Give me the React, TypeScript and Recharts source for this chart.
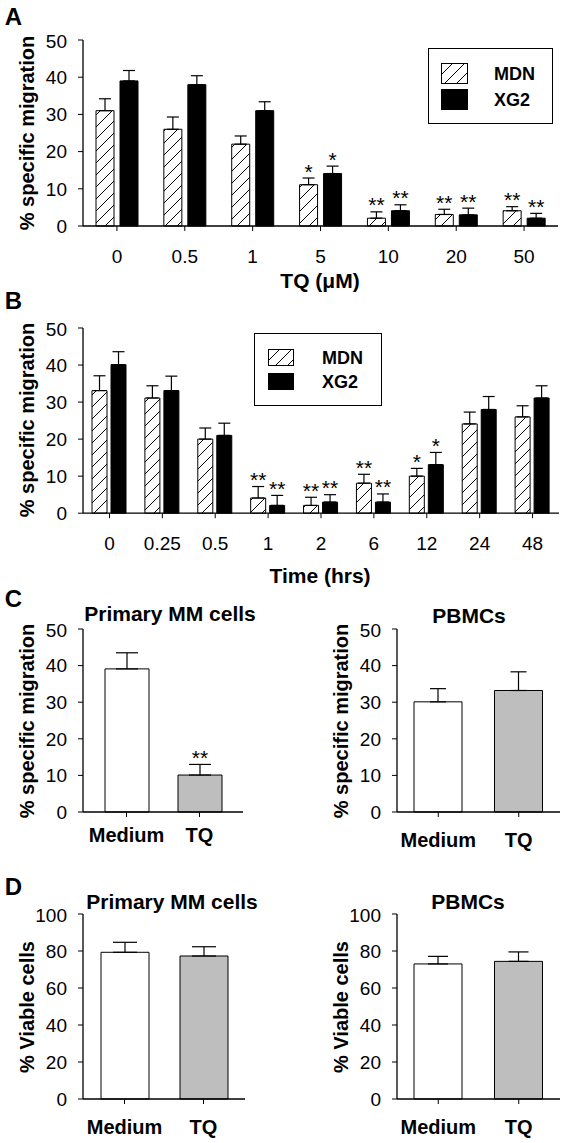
import { BarChart, Bar, XAxis, YAxis, ErrorBar, LabelList, Cell } from "recharts";

// ---- panel A: TQ dose ----
const tqLabels   = ["0", "0.5", "1", "5", "10", "20", "50"];
const tqMdn      = [31, 26, 22, 11.1, 2.1, 3.1, 4.1];
const tqMdnErr   = [3.2, 3.3, 2.2, 1.8, 1.7, 1.4, 1.1];
const tqMdnSig   = ["", "", "", "*", "**", "**", "**"];
const tqXg2      = [39, 38, 31, 14.1, 4.1, 3, 2.1];
const tqXg2Err   = [2.8, 2.4, 2.4, 2.0, 1.6, 1.8, 1.3];
const tqXg2Sig   = ["", "", "", "*", "**", "**", "**"];

// ---- panel B: time course ----
const timeLabels = ["0", "0.25", "0.5", "1", "2", "6", "12", "24", "48"];
const timeMdn    = [33.1, 31.1, 20, 4.1, 2.1, 8.1, 10, 24.1, 26];
const timeMdnErr = [4.0, 3.3, 3.0, 3.1, 2.2, 2.4, 2.1, 3.2, 3.0];
const timeMdnSig = ["", "", "", "**", "**", "**", "*", "", ""];
const timeXg2    = [40.1, 33.1, 21, 2.1, 3, 3, 13.1, 28, 31.1];
const timeXg2Err = [3.5, 3.9, 3.3, 2.7, 2.0, 2.2, 3.3, 3.5, 3.3];
const timeXg2Sig = ["", "", "", "**", "**", "**", "*", "", ""];

const seriesNames = ["MDN", "XG2"];

// ---- panels C / D ----
const pairLabels   = ["Medium", "TQ"];
const migMM        = [39.1, 10.1];
const migMMErr     = [4.4, 2.9];
const migMMSig     = ["", "**"];
const migPB        = [30.1, 33.2];
const migPBErr     = [3.6, 5.1];
const viaMM        = [79.3, 77.3];
const viaMMErr     = [5.4, 5.0];
const viaPB        = [73, 74.4];
const viaPBErr     = [4.1, 5.1];
const noSig        = ["", ""];

const FONT = '"Liberation Sans", Arial, Helvetica, sans-serif';
const BLACK = "#000";
const GREY = "#bebebe";
const axisLine = { stroke: BLACK, strokeWidth: 1.3 };
const tickStyle = { fontSize: 19, fill: BLACK, fontFamily: FONT };
const catStyle = { fontSize: 20, fill: BLACK, fontFamily: FONT, fontWeight: 700 };

type Rect = { x0: number; y0: number; x1: number; y1: number };

function Txt({ x, y, size, bold = true, rotate = false, children }: {
    x: number; y: number; size: number; bold?: boolean; rotate?: boolean; children: React.ReactNode;
}) {
    return (
        <div style={{
            position: "absolute", left: x, top: y, fontSize: size, lineHeight: 1,
            fontWeight: bold ? 700 : 400, whiteSpace: "nowrap",
            transform: `translate(-50%,-50%)${rotate ? " rotate(-90deg)" : ""}`,
        }}>{children}</div>
    );
}

function Hatch({ id }: { id: string }) {
    return (
        <pattern id={id} patternUnits="userSpaceOnUse" width={12} height={12}>
            <rect width={12} height={12} fill="#fff" />
            <path d="M0,12 L12,0 M-3,3 L3,-3 M9,15 L15,9" stroke={BLACK} strokeWidth={1} />
        </pattern>
    );
}

// significance stars sit just above the error bar cap
function starContent(sig: string[], err: number[], pxPerUnit: number) {
    return (p: any) => {
        const i = p.index;
        const s = sig[i];
        if (!s) return null;
        const vb = p.viewBox ?? p;
        const x = Number(vb.x ?? p.x), y = Number(vb.y ?? p.y), w = Number(vb.width ?? p.width);
        return (
            <text key={`s${i}`} x={x + w / 2} y={y - err[i] * pxPerUnit + 0.5} textAnchor="middle"
                  fontSize={21} fill={BLACK} fontFamily={FONT}>{s}</text>
        );
    };
}

// chart box so that the plot area lands on `plot`
function box(plot: Rect) {
    return {
        left: plot.x0 - 70, top: plot.y0 - 10,
        width: plot.x1 - plot.x0 + 75, height: plot.y1 - plot.y0 + 50,
        margin: { top: 10, right: 5, bottom: 0, left: 10 },
    };
}

function GroupedPanel({ plot, labels, mdn, mdnErr, mdnSig, xg2, xg2Err, xg2Sig, barSize, barGap, cap, tickMargin, hatchId }: {
    plot: Rect; labels: string[]; mdn: number[]; mdnErr: number[]; mdnSig: string[];
    xg2: number[]; xg2Err: number[]; xg2Sig: string[];
    barSize: number; barGap: number; cap: number; tickMargin: number; hatchId: string;
}) {
    const b = box(plot);
    const ppu = (plot.y1 - plot.y0) / 50;
    const data = labels.map((label, i) => ({
        label, mdn: mdn[i], mdnErr: [0, mdnErr[i]], xg2: xg2[i], xg2Err: [0, xg2Err[i]],
    }));
    return (
        <div style={{ position: "absolute", left: b.left, top: b.top }}>
            <BarChart width={b.width} height={b.height} data={data} margin={b.margin}
                      barGap={barGap} barSize={barSize}>
                <defs><Hatch id={hatchId} /></defs>
                <XAxis dataKey="label" height={40} interval={0} tickSize={5} tickMargin={tickMargin}
                       axisLine={axisLine} tickLine={{ stroke: BLACK }} tick={tickStyle} />
                <XAxis xAxisId="top" orientation="top" dataKey="label" height={0}
                       tick={false} tickLine={false} axisLine={axisLine} />
                <YAxis width={60} domain={[0, 50]} ticks={[0, 10, 20, 30, 40, 50]} tickSize={5} tickMargin={11}
                       axisLine={axisLine} tickLine={{ stroke: BLACK }} tick={tickStyle} />
                <YAxis yAxisId="right" orientation="right" width={0} domain={[0, 50]}
                       tick={false} tickLine={false} axisLine={axisLine} />
                <Bar dataKey="mdn" fill={`url(#${hatchId})`} stroke={BLACK} strokeWidth={1} isAnimationActive={false}>
                    <ErrorBar dataKey="mdnErr" width={cap} stroke={BLACK} strokeWidth={1.2} direction="y" isAnimationActive={false} />
                    <LabelList dataKey="mdn" content={starContent(mdnSig, mdnErr, ppu)} />
                </Bar>
                <Bar dataKey="xg2" fill={BLACK} stroke={BLACK} strokeWidth={1} isAnimationActive={false}>
                    <ErrorBar dataKey="xg2Err" width={cap} stroke={BLACK} strokeWidth={1.2} direction="y" isAnimationActive={false} />
                    <LabelList dataKey="xg2" content={starContent(xg2Sig, xg2Err, ppu)} />
                </Bar>
            </BarChart>
        </div>
    );
}

function PairPanel({ plot, values, errs, sig, yMax, barSize, cap, pad, tickMargin }: {
    plot: Rect; values: number[]; errs: number[]; sig: string[]; yMax: number;
    barSize: number; cap: number; pad: number; tickMargin: number;
}) {
    const b = box(plot);
    const ppu = (plot.y1 - plot.y0) / yMax;
    const ticks = [0, 1, 2, 3, 4, 5].map(k => (k * yMax) / 5);
    const fills = ["#fff", GREY];
    const data = pairLabels.map((label, i) => ({ label, v: values[i], e: [0, errs[i]] }));
    return (
        <div style={{ position: "absolute", left: b.left, top: b.top }}>
            <BarChart width={b.width} height={b.height} data={data} margin={b.margin} barSize={barSize}>
                <XAxis dataKey="label" height={40} interval={0} tickSize={5} tickMargin={tickMargin}
                       padding={{ left: pad, right: pad }}
                       axisLine={axisLine} tickLine={{ stroke: BLACK }} tick={catStyle} />
                <XAxis xAxisId="top" orientation="top" dataKey="label" height={0}
                       tick={false} tickLine={false} axisLine={axisLine} />
                <YAxis width={60} domain={[0, yMax]} ticks={ticks} tickSize={5} tickMargin={11}
                       axisLine={axisLine} tickLine={{ stroke: BLACK }} tick={tickStyle} />
                <YAxis yAxisId="right" orientation="right" width={0} domain={[0, yMax]}
                       tick={false} tickLine={false} axisLine={axisLine} />
                <Bar dataKey="v" stroke={BLACK} strokeWidth={1} isAnimationActive={false}>
                    {data.map((d, i) => <Cell key={d.label} fill={fills[i]} />)}
                    <ErrorBar dataKey="e" width={cap} stroke={BLACK} strokeWidth={1.2} direction="y" isAnimationActive={false} />
                    <LabelList dataKey="v" content={starContent(sig, errs, ppu)} />
                </Bar>
            </BarChart>
        </div>
    );
}

function LegendBox({ left, top, width, height, swLeft, swW, swH, rowTops, textLeft, id }: {
    left: number; top: number; width: number; height: number;
    swLeft: number; swW: number; swH: number; rowTops: number[]; textLeft: number; id: string;
}) {
    const fills = [`url(#${id})`, BLACK];
    return (
        <>
            <div style={{ position: "absolute", left, top, width, height, border: "1.5px solid #000", boxSizing: "border-box" }} />
            {seriesNames.map((name, i) => (
                <div key={name}>
                    <svg width={swW} height={swH} style={{ position: "absolute", left: swLeft, top: rowTops[i] }}>
                        {i === 0 && <defs><Hatch id={id} /></defs>}
                        <rect x={0.5} y={0.5} width={swW - 1} height={swH - 1} fill={fills[i]} stroke={BLACK} />
                    </svg>
                    <div style={{
                        position: "absolute", left: textLeft, top: rowTops[i] + swH / 2, transform: "translateY(-50%)",
                        fontSize: 18, fontWeight: 700, lineHeight: 1,
                    }}>{name}</div>
                </div>
            ))}
        </>
    );
}

export default function App() {
    const plotA: Rect = { x0: 83, y0: 40, x1: 558, y1: 226 };
    const plotB: Rect = { x0: 83, y0: 327.5, x1: 559, y1: 512.7 };
    const plotCL: Rect = { x0: 83, y0: 629, x1: 243, y1: 812 };
    const plotCR: Rect = { x0: 397, y0: 629, x1: 560, y1: 812 };
    const plotDL: Rect = { x0: 83, y0: 914.3, x1: 245, y1: 1099.3 };
    const plotDR: Rect = { x0: 397, y0: 914.3, x1: 560, y1: 1099.3 };

    return (
        <div style={{
            position: "absolute", left: 0, top: 0, width: 565, height: 1143,
            background: "#fff", fontFamily: FONT, color: BLACK, overflow: "hidden",
        }}>
            <GroupedPanel plot={plotA} labels={tqLabels} mdn={tqMdn} mdnErr={tqMdnErr} mdnSig={tqMdnSig}
                          xg2={tqXg2} xg2Err={tqXg2Err} xg2Sig={tqXg2Sig}
                          barSize={18} barGap={6} cap={6} tickMargin={19} hatchId="hatchA" />
            <GroupedPanel plot={plotB} labels={timeLabels} mdn={timeMdn} mdnErr={timeMdnErr} mdnSig={timeMdnSig}
                          xg2={timeXg2} xg2Err={timeXg2Err} xg2Sig={timeXg2Sig}
                          barSize={15} barGap={4} cap={6} tickMargin={18} hatchId="hatchB" />
            <PairPanel plot={plotCL} values={migMM} errs={migMMErr} sig={migMMSig} yMax={50}
                       barSize={44} cap={11} pad={7} tickMargin={11} />
            <PairPanel plot={plotCR} values={migPB} errs={migPBErr} sig={noSig} yMax={50}
                       barSize={48} cap={8} pad={1} tickMargin={16} />
            <PairPanel plot={plotDL} values={viaMM} errs={viaMMErr} sig={noSig} yMax={100}
                       barSize={48} cap={12} pad={2} tickMargin={16} />
            <PairPanel plot={plotDR} values={viaPB} errs={viaPBErr} sig={noSig} yMax={100}
                       barSize={48} cap={10} pad={1} tickMargin={16} />

            <LegendBox left={428} top={48} width={125} height={76} swLeft={441} swW={27} swH={21}
                       rowTops={[63, 89]} textLeft={494} id="hatchLegA" />
            <LegendBox left={254} top={333} width={128} height={73} swLeft={268} swW={26} swH={17}
                       rowTops={[349, 373]} textLeft={322} id="hatchLegB" />

            <Txt x={13.5} y={17} size={24}>A</Txt>
            <Txt x={13.5} y={301} size={24}>B</Txt>
            <Txt x={13.5} y={599} size={24}>C</Txt>
            <Txt x={13.5} y={887} size={24}>D</Txt>

            <Txt x={320} y={280} size={21}>TQ (μM)</Txt>
            <Txt x={320} y={575} size={21}>Time (hrs)</Txt>

            <Txt x={27} y={133} size={20} rotate>% specific migration</Txt>
            <Txt x={27} y={420} size={20} rotate>% specific migration</Txt>
            <Txt x={27} y={720.5} size={20} rotate>% specific migration</Txt>
            <Txt x={341} y={720.5} size={20} rotate>% specific migration</Txt>
            <Txt x={27} y={1007} size={20} rotate>% Viable cells</Txt>
            <Txt x={341} y={1007} size={20} rotate>% Viable cells</Txt>

            <Txt x={170} y={613} size={21}>Primary MM cells</Txt>
            <Txt x={469} y={615} size={21}>PBMCs</Txt>
            <Txt x={172} y={901} size={21}>Primary MM cells</Txt>
            <Txt x={468} y={901} size={21}>PBMCs</Txt>
        </div>
    );
}
